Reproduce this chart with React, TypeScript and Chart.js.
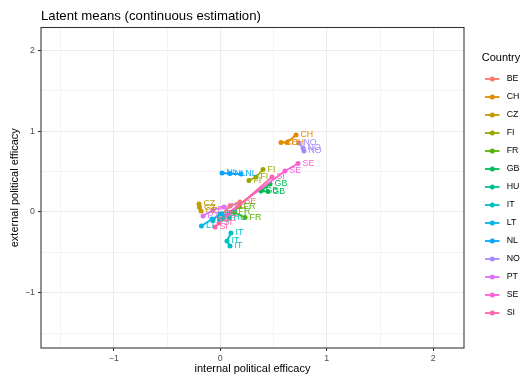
import React, { useEffect, useRef } from "react";
import { Chart, registerables } from "chart.js";

Chart.register(...registerables);

// Countries and their ggplot-style hue colours
const countries = ["BE", "CH", "CZ", "FI", "FR", "GB", "HU", "IT", "LT", "NL", "NO", "PT", "SE", "SI"];
const colors = [
  "#F8766D", "#E38900", "#C49A00", "#99A800", "#53B400", "#00BC56", "#00C094",
  "#00BFC4", "#00B6EB", "#06A4FF", "#A58AFF", "#DF70F8", "#FB61D7", "#FF66A8",
];

// Latent means per country, one value per estimation point (path order)
const internalEfficacy: number[][] = [
  [0.016, 0.091, 0.185],   // BE
  [0.711, 0.626, 0.57],    // CH
  [-0.2, -0.195, -0.181],  // CZ
  [0.401, 0.335, 0.269],   // FI
  [0.176, 0.129, 0.232],   // FR
  [0.467, 0.382, 0.448],   // GB
  [0.082, -0.003, -0.069], // HU
  [0.1, 0.063, 0.091],     // IT
  [-0.177, -0.078, 0.016], // LT
  [0.016, 0.091, 0.194],   // NL
  [0.739, 0.777, 0.786],   // NO
  [-0.162, -0.069, 0.035], // PT
  [-0.003, 0.607, 0.73],   // SE
  [-0.05, -0.012, 0.485],  // SI
];
const externalEfficacy: number[][] = [
  [-0.025, 0.074, 0.124],  // BE
  [0.953, 0.86, 0.86],     // CH
  [0.099, 0.056, 0.012],   // CZ
  [0.526, 0.433, 0.39],    // FI
  [0.068, 0.0, -0.068],    // FR
  [0.347, 0.26, 0.254],    // GB
  [-0.074, -0.025, -0.099],// HU
  [-0.26, -0.359, -0.421], // IT
  [-0.173, -0.087, -0.025],// LT
  [0.483, 0.476, 0.47],    // NL
  [0.854, 0.792, 0.755],   // NO
  [-0.05, 0.025, 0.062],   // PT
  [-0.087, 0.507, 0.6],    // SE
  [-0.186, -0.136, 0.433], // SI
];

const gridTicks = [-1.5, -1, -0.5, 0, 0.5, 1, 1.5, 2];

const chartTitle = "Latent means (continuous estimation)";
const xTitle = "internal political efficacy";
const yTitle = "external political efficacy";
const legendTitle = "Country";

const FONT = "'Liberation Sans', Arial, Helvetica, sans-serif";

const fmt = (v: number) => (v < 0 ? "\u2212" + Math.abs(v) : String(v));
const isMajor = (v: number) => Number.isInteger(v);

const decorations = {
  id: "decorations",
  afterDatasetsDraw(chart: any) {
    const ctx = chart.ctx;
    ctx.save();
    ctx.font = `8.8px ${FONT}`;
    ctx.textBaseline = "middle";
    ctx.textAlign = "left";
    chart.data.datasets.forEach((ds: any, i: number) => {
      const meta = chart.getDatasetMeta(i);
      ctx.fillStyle = ds.borderColor;
      meta.data.forEach((el: any) => {
        ctx.fillText(ds.label, el.x + 4.5, el.y);
      });
    });
    ctx.restore();
  },
  afterDraw(chart: any) {
    const ctx = chart.ctx;
    const a = chart.chartArea;
    ctx.save();
    // panel border
    ctx.strokeStyle = "#333333";
    ctx.lineWidth = 1.07;
    ctx.strokeRect(a.left, a.top, a.right - a.left, a.bottom - a.top);

    // title
    ctx.fillStyle = "#000000";
    ctx.font = `13.2px ${FONT}`;
    ctx.textAlign = "left";
    ctx.textBaseline = "alphabetic";
    ctx.fillText(chartTitle, 41, 19.5);

    // legend
    ctx.font = `11px ${FONT}`;
    ctx.fillText(legendTitle, 481.7, 61);
    ctx.font = `8.8px ${FONT}`;
    ctx.textBaseline = "middle";
    countries.forEach((c, i) => {
      const y = 79 + i * 18;
      ctx.strokeStyle = colors[i];
      ctx.lineWidth = 1.8;
      ctx.beginPath();
      ctx.moveTo(485, y);
      ctx.lineTo(499.5, y);
      ctx.stroke();
      ctx.fillStyle = colors[i];
      ctx.beginPath();
      ctx.arc(492.3, y, 2.5, 0, Math.PI * 2);
      ctx.fill();
      ctx.fillStyle = "#000000";
      ctx.fillText(c, 506.7, y);
    });
    ctx.restore();
  },
};

const setTicks = (scale: any) => {
  scale.ticks = gridTicks.map((v) => ({ value: v }));
};

export default function App() {
  const canvasRef = useRef<HTMLCanvasElement | null>(null);

  useEffect(() => {
    document.body.style.margin = "0";
    const canvas = canvasRef.current;
    if (!canvas) return;

    const datasets = countries.map((c, i) => ({
      label: c,
      data: internalEfficacy[i].map((x, j) => ({ x, y: externalEfficacy[i][j] })),
      borderColor: colors[i],
      backgroundColor: colors[i],
      pointBackgroundColor: colors[i],
      pointBorderWidth: 0,
      pointRadius: 2.5,
      borderWidth: 1.8,
      showLine: true,
      tension: 0,
      order: countries.length - 1 - i,
    }));

    const gridOpts = {
      color: "#EBEBEB",
      lineWidth: (ctx: any) => (ctx.tick && isMajor(ctx.tick.value) ? 1.07 : 0.55),
      drawTicks: true,
      tickLength: 3,
      tickColor: (ctx: any) => (ctx.tick && isMajor(ctx.tick.value) ? "#333333" : "rgba(0,0,0,0)"),
      tickWidth: 1.07,
    };

    const chart = new Chart(canvas, {
      type: "scatter",
      data: { datasets },
      plugins: [decorations],
      options: {
        responsive: false,
        animation: false,
        devicePixelRatio: 1,
        layout: { padding: { top: 27.5, right: 61, left: 0, bottom: 0 } },
        plugins: {
          legend: { display: false },
          tooltip: { enabled: false },
          title: { display: false },
        },
        scales: {
          x: {
            type: "linear",
            min: -1.6836,
            max: 2.2883,
            afterBuildTicks: setTicks,
            afterFit: (scale: any) => {
              scale.height = 30;
            },
            border: { display: false },
            grid: gridOpts as any,
            ticks: {
              autoSkip: false,
              maxRotation: 0,
              padding: 2,
              color: "#4D4D4D",
              font: { family: FONT, size: 8.8 },
              callback: (v: any) => (isMajor(Number(v)) ? fmt(Number(v)) : ""),
            },
            title: {
              display: true,
              text: xTitle,
              color: "#000000",
              font: { family: FONT, size: 11 },
              padding: { top: 0, bottom: 2.4 },
            },
          },
          y: {
            type: "linear",
            min: -1.683,
            max: 2.2834,
            afterBuildTicks: setTicks,
            afterFit: (scale: any) => {
              scale.width = 41;
            },
            border: { display: false },
            grid: gridOpts as any,
            ticks: {
              autoSkip: false,
              padding: 3,
              color: "#4D4D4D",
              font: { family: FONT, size: 8.8 },
              callback: (v: any) => (isMajor(Number(v)) ? fmt(Number(v)) : ""),
            },
            title: {
              display: true,
              text: yTitle,
              color: "#000000",
              font: { family: FONT, size: 11 },
              padding: { top: 8.4, bottom: 0 },
            },
          },
        },
      },
    });

    return () => chart.destroy();
  }, []);

  return (
    <div style={{ width: 525, height: 378, background: "#ffffff" }}>
      <canvas ref={canvasRef} width={525} height={378} style={{ display: "block" }} />
    </div>
  );
}
